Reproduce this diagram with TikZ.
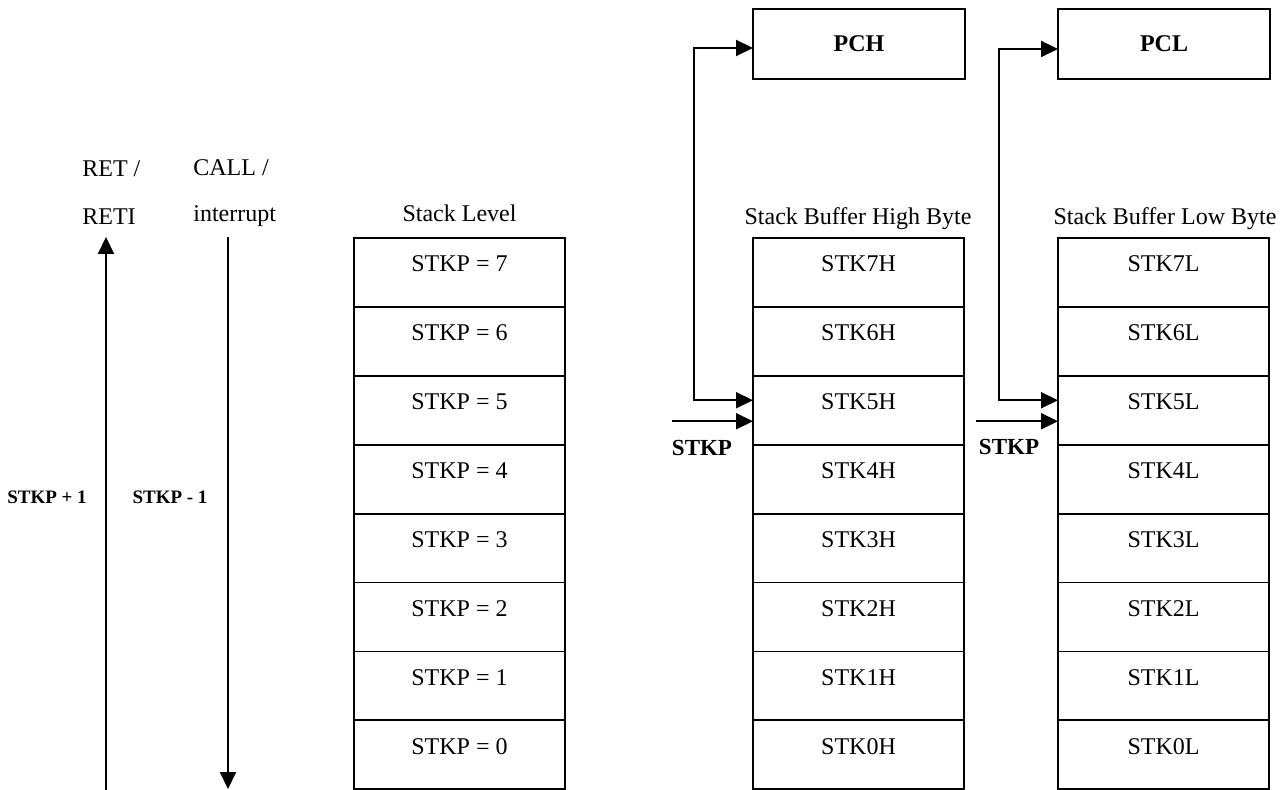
\documentclass[tikz,border=0pt]{standalone}
\usepackage{fontspec}
\setmainfont{Liberation Serif}
\usetikzlibrary{arrows.meta}
\begin{document}
\begin{tikzpicture}[x=0.5pt,y=-0.5pt,
  cell/.style={draw, line width=0.9pt, minimum width=105.5pt, minimum height=34.45pt, inner sep=0pt, outer sep=0pt},
  txt/.style={font=\fontsize{12pt}{14pt}\selectfont, inner sep=0pt},
  btxt/.style={font=\fontsize{11.5pt}{14pt}\selectfont\bfseries, inner sep=0pt},
  stxt/.style={font=\fontsize{9.5pt}{12pt}\selectfont\bfseries, inner sep=0pt},
  tip/.tip={Triangle[length=8.5pt,width=8pt]},
  arr/.style={line width=1pt, -tip},
  arrs/.style={line width=1pt, tip-tip},
  reg/.style={draw, line width=1.3pt, minimum width=106pt, minimum height=35pt, inner sep=0pt, outer sep=0pt, font=\fontsize{12pt}{14pt}\selectfont\bfseries}
]
\useasboundingbox (0,0) rectangle (1288,790);

% headers
\node[txt, anchor=base] (hL) at (459.5,222) {Stack Level};
\node[txt, anchor=base] (hH) at (858,225) {Stack Buffer High Byte};
\node[txt, anchor=base] (hB) at (1165,225) {Stack Buffer Low Byte};

% columns
\foreach \k in {0,...,7}{
  \pgfmathsetmacro\cy{238+(7-\k)*68.9+34.45}
  \node[cell, label={[txt,anchor=base,yshift=-17pt]north:STKP = \k}] (L\k) at (459.5,\cy) {};
  \node[cell, label={[txt,anchor=base,yshift=-17pt]north:STK\k H}] (H\k) at (858.5,\cy) {};
  \node[cell, label={[txt,anchor=base,yshift=-17pt]north:STK\k L}] (B\k) at (1163.5,\cy) {};
}

% PC registers
\node[reg] (pch) at (859,44) {PCH};
\node[reg] (pcl) at (1164,44) {PCL};

\draw[arrs] ([yshift=-2pt]pch.west) -- ++(-59,0) |- ([yshift=5pt]H5.west);
\draw[arrs] ([yshift=-2.5pt]pcl.west) -- ++(-59,0) |- ([yshift=5pt]B5.west);

% STKP pointers
\coordinate (sH) at ([xshift=-40.5pt,yshift=-5.5pt]H5.west);
\coordinate (sB) at ([xshift=-41pt,yshift=-5.5pt]B5.west);
\draw[arr] (sH) -- ([yshift=-5.5pt]H5.west);
\draw[arr] (sB) -- ([yshift=-5.5pt]B5.west);
\node[btxt, anchor=base] (lH) at (702,455) {STKP};
\node[btxt, anchor=base] (lB) at (1009,454) {STKP};

% left arrows
\coordinate (upB) at (106,790);
\coordinate (upT) at (106,237);
\coordinate (dnT) at (228,237);
\coordinate (dnB) at (228,789);
\draw[arr] (upB) -- (upT);
\draw[arr] (dnT) -- (dnB);

\node[txt, anchor=base west] (ret) at (82,177) {RET /};
\node[txt, anchor=base west] (reti) at (82,225) {RETI};
\node[txt, anchor=base west] (call) at (193,176) {CALL /};
\node[txt, anchor=base west] (intr) at (193,222) {interrupt};

\node[stxt, anchor=base] (plus) at (47,503) {STKP + 1};
\node[stxt, anchor=base] (minus) at (170,503) {STKP - 1};
\end{tikzpicture}
\end{document}
